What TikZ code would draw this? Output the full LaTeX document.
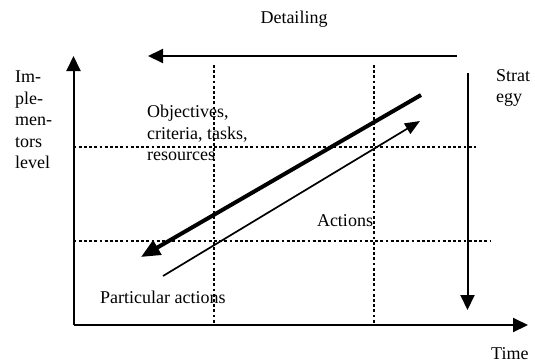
\documentclass[tikz,border=0pt]{standalone}
\usepackage{fontspec}
\setmainfont{Liberation Serif}
\usetikzlibrary{arrows.meta}

\tikzset{
  axis/.style={line width=2pt,-{Triangle[length=15pt,width=14pt]}},
  gridline/.style={line width=2.8pt,dash pattern=on 2.8pt off 2.4pt},
  txt/.style={inner sep=0pt,font=\fontsize{18}{21.5}\selectfont,align=left},
}

\begin{document}
\begin{tikzpicture}[x=1pt,y=-1pt]
  \useasboundingbox (0,0) rectangle (535,362);
  % frame of the chart
  \coordinate (origin) at (73.5,325);
  \coordinate (ytip) at (73.5,56);
  \coordinate (xtip) at (528,325);
  \coordinate (dstart) at (457,56);
  \coordinate (dend) at (148,56);
  \coordinate (sstart) at (467.5,73);
  \coordinate (send) at (467.5,310);

  % dotted grid
  \coordinate (g1t) at (214,65);  \coordinate (g1b) at (214,325);
  \coordinate (g2t) at (374,65);  \coordinate (g2b) at (374,325);
  \coordinate (h1l) at (73.5,147); \coordinate (h1r) at (476,147);
  \coordinate (h2l) at (73.5,241); \coordinate (h2r) at (490,241);
  \draw[gridline] (g1t) -- (g1b);
  \draw[gridline] (g2t) -- (g2b);
  \draw[gridline] (h1l) -- (h1r);
  \draw[gridline] (h2l) -- (h2r);

  % axes and the two outer arrows
  \draw[axis] (origin) -- (ytip);
  \draw[axis] (origin) -- (xtip);
  \draw[axis] (dstart) -- (dend);
  \draw[axis] (sstart) -- (send);

  % diagonal arrows
  \coordinate (topdown) at (421,95);
  \coordinate (topdownend) at (141,257);
  \coordinate (upstart) at (163,276);
  \coordinate (upend) at (420,121);
  \draw[line width=4pt,-{Triangle[length=19pt,width=16pt]}] (topdown) -- (topdownend);
  \draw[line width=1.7pt,-{Triangle[length=15pt,width=12pt]}] (upstart) -- (upend);

  % labels
  \node[txt] (detailing) at (294,19) {Detailing};
  \node[txt,anchor=north west] (level) at (15,71) {Im-\\ple-\\men-\\tors\\level};
  \node[txt,anchor=north west] (strategy) at (496,69) {Strat\\egy};
  \node[txt,anchor=north west] (objectives) at (147,105) {Objectives,\\criteria, tasks,\\resources};
  \node[txt] (actions) at (345,221) {Actions};
  \node[txt,anchor=west] (particular) at (100,297) {Particular actions};
  \node[txt,anchor=west] (time) at (491,353.5) {Time};
\end{tikzpicture}
\end{document}
